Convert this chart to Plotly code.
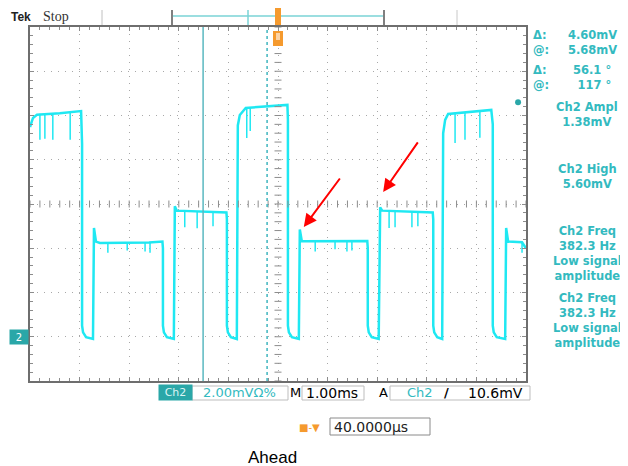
import numpy as np
import plotly.graph_objects as go

# ---------------- data (time in ms, voltage in mV) ----------------
trace_t_ms = [
    -5.00, -4.94, -4.86, -4.40, -3.97, -3.95, -3.95, -3.93, -3.87, -3.73,
    -3.71, -3.67, -3.59, -2.60, -2.33, -2.32, -2.32, -2.30, -2.24, -2.10,
    -2.08, -2.04, -1.04, -1.03, -1.03, -1.01, -0.95, -0.83,
    -0.81, -0.77, -0.65, 0.19, 0.20, 0.20, 0.22, 0.28, 0.42,
    0.44, 0.48, 1.80, 1.81, 1.81, 1.83, 1.89, 2.03,
    2.06, 2.10, 3.12, 3.13, 3.13, 3.15, 3.21, 3.31,
    3.33, 3.37, 3.43, 4.30, 4.33, 4.33, 4.35, 4.41, 4.58,
    4.60, 4.64, 4.92, 5.00,
]
trace_mv = [
    9.48, 9.89, 10.03, 10.10, 10.20, 8.70, 0.50, 0.20, -0.02, -0.10,
    4.92, 4.30, 4.24, 4.26, 4.30, 4.00, 0.50, 0.20, -0.02, -0.10,
    5.90, 5.70, 5.62, 5.30, 0.50, 0.20, -0.02, -0.10,
    9.55, 10.02, 10.34, 10.48, 9.80, 0.50, 0.20, -0.02, -0.10,
    4.85, 4.32, 4.33, 4.00, 0.50, 0.20, -0.02, -0.10,
    5.85, 5.70, 5.62, 5.30, 0.50, 0.20, -0.02, -0.10,
    9.20, 9.80, 10.07, 10.25, 9.60, 0.50, 0.20, -0.02, -0.10,
    4.92, 4.30, 4.27, 4.00,
]
glitch_t_ms = [-4.80, -4.70, -4.54, -4.19, -3.43, -3.04, -2.68, -2.58,
               -1.88, -1.63, -1.31, -0.63, -0.56, 0.75, 1.15, 1.39, 1.49,
               2.24, 2.36, 2.70, 2.82, 3.57, 3.77, 4.07, 4.92]
glitch_base_mv = [10.08, 10.08, 10.10, 10.15, 4.25, 4.25, 4.26, 4.26,
                  5.68, 5.66, 5.64, 10.36, 10.38, 4.32, 4.32, 4.33, 4.33,
                  5.68, 5.67, 5.65, 5.64, 10.12, 10.15, 10.20, 4.27]
glitch_tip_mv = [8.90, 8.95, 8.90, 8.90, 3.80, 3.90, 3.85, 3.80,
                 4.95, 4.90, 5.00, 8.98, 9.30, 3.85, 3.95, 3.85, 3.90,
                 4.92, 4.95, 4.95, 5.00, 8.76, 8.90, 9.00, 3.80]

cursor_solid_t_ms = -1.51
cursor_dotted_t_ms = -0.22
trigger_level_mv = 10.6
ground_mv = 0.0

arrow_head_t = [0.52, 2.12]
arrow_head_mv = [4.96, 6.54]
arrow_tail_t = [1.27, 2.84]
arrow_tail_mv = [7.22, 8.85]

cursor_labels = ["Δ:", "@:"]
volt_cursor_values = ["4.60mV", "5.68mV"]
phase_cursor_values = ["56.1 °", "117 °"]
meas_blocks = [["Ch2 Ampl", "1.38mV"], ["Ch2 High", "5.60mV"],
               ["Ch2 Freq", "382.3 Hz", "Low signal", "amplitude"],
               ["Ch2 Freq", "382.3 Hz", "Low signal", "amplitude"]]

# ---------------- layout geometry (page pixels; body has 8px margin) ----------------
OFF = 8
PAGE_W, PAGE_H = 628, 466
PLOT_L, PLOT_R, PLOT_T, PLOT_B = 30, 526, 27, 381
W, H = PAGE_W - OFF, PAGE_H - OFF
PW, PH = PLOT_R - PLOT_L, PLOT_B - PLOT_T
X_RANGE = [-5, 5]      # 10 div x 1 ms/div
Y_RANGE = [-2, 14]     # 8 div x 2 mV/div, ground one division above the bottom
Y_CENTRE = 6

def px(x):
    return (x - PLOT_L) / PW

def py(y):
    return (PLOT_B - y) / PH

CYAN = "#1FE8F2"
TEAL = "#33BAC0"
ORANGE = "#F59A2E"
GRAY = "#8C8C8C"

fig = go.Figure()

# glitches
gx, gy = [], []
for t, b, tip in zip(glitch_t_ms, glitch_base_mv, glitch_tip_mv):
    gx += [t, t, None]
    gy += [b, tip, None]
fig.add_trace(go.Scatter(x=gx, y=gy, mode="lines",
                         line=dict(color=CYAN, width=1.5), hoverinfo="skip"))
# main trace
fig.add_trace(go.Scatter(x=trace_t_ms, y=trace_mv, mode="lines",
                         line=dict(color=CYAN, width=2.5), hoverinfo="skip"))

# centre graticule tick marks
cx = np.round(np.arange(X_RANGE[0], X_RANGE[1] + 1e-9, 0.2), 3)
cy = np.round(np.arange(Y_RANGE[0], Y_RANGE[1] + 1e-9, 0.4), 3)
fig.add_trace(go.Scatter(x=cx, y=[Y_CENTRE] * len(cx), mode="markers",
                         marker=dict(symbol="line-ns", size=5, line=dict(color=GRAY, width=1)),
                         hoverinfo="skip"))
fig.add_trace(go.Scatter(x=[0] * len(cy), y=cy, mode="markers",
                         marker=dict(symbol="line-ew", size=5, line=dict(color=GRAY, width=1)),
                         hoverinfo="skip"))
# trigger level dot
fig.add_trace(go.Scatter(x=[4.84], y=[trigger_level_mv], mode="markers",
                         marker=dict(color="#2AA7A8", size=6), hoverinfo="skip"))

shapes = []
# cursors
shapes.append(dict(type="line", xref="x", yref="paper", x0=cursor_solid_t_ms, x1=cursor_solid_t_ms,
                   y0=0, y1=1, line=dict(color="#5AB8C0", width=1.5)))
shapes.append(dict(type="line", xref="x", yref="paper", x0=cursor_dotted_t_ms, x1=cursor_dotted_t_ms,
                   y0=0, y1=1, line=dict(color="#3FB5BE", width=1.5, dash="dot")))
# top record bar
shapes.append(dict(type="line", xref="paper", yref="paper", x0=px(172), x1=px(384), y0=py(16), y1=py(16),
                   line=dict(color="#7AD3D6", width=1.5)))
for xx, col, w in [(172, "#808080", 2), (384, "#808080", 2), (102, "#C0C0C0", 1), (457, "#C8C8C8", 1),
                   (248, "#7AD3D6", 1.5)]:
    shapes.append(dict(type="line", xref="paper", yref="paper", x0=px(xx), x1=px(xx), y0=py(10), y1=py(25),
                       line=dict(color=col, width=w)))
shapes.append(dict(type="rect", xref="paper", yref="paper", x0=px(275), x1=px(281), y0=py(25), y1=py(8),
                   fillcolor=ORANGE, line=dict(width=0)))
shapes.append(dict(type="rect", xref="paper", yref="paper", x0=px(273), x1=px(283), y0=py(46), y1=py(31),
                   fillcolor=ORANGE, line=dict(width=0)))
shapes.append(dict(type="rect", xref="paper", yref="paper", x0=px(276), x1=px(280), y0=py(40), y1=py(33),
                   fillcolor="#FBD3A6", line=dict(width=0)))
# status bar boxes
for x0, x1, y0, y1 in [(192, 288, 386, 400), (302, 364, 386, 400), (390, 530, 386, 400), (330, 430, 418, 435)]:
    shapes.append(dict(type="rect", xref="paper", yref="paper", x0=px(x0), x1=px(x1), y0=py(y1), y1=py(y0),
                       line=dict(color="#BDBDBD" if y0 < 410 else "#8A8A8A", width=1)))

ann = []
def text(x, y, s, size=13, color="black", family="DejaVu Sans", anchor="left", align="left", **kw):
    ann.append(dict(xref="paper", yref="paper", x=px(x), y=py(y), text=s, showarrow=False,
                    xanchor=anchor, yanchor="middle", align=align,
                    font=dict(size=size, color=color, family=family), **kw))

text(9, 17, "<b>Tek</b>", size=12, color="#222", family="Liberation Sans")
text(41, 17, "Stop", size=14, color="#333", family="Liberation Serif")

# cursor readouts (two lines per block)
RO = dict(size=11.5, color=TEAL, family="DejaVu Sans")
text(531, 42, "<b>" + "<br>".join(cursor_labels) + "</b>", **RO)
text(566, 42, "<b>" + "<br>".join(volt_cursor_values) + "</b>", **RO)
text(531, 78, "<b>" + "<br>".join(cursor_labels) + "</b>", **RO)
text(613, 78, "<b>" + "<br>".join(phase_cursor_values) + "</b>", anchor="right", align="right", **RO)

# measurement readouts
block_centre_y = [114, 176.5, 253, 320]
for lines, yy in zip(meas_blocks, block_centre_y):
    text(587, yy, "<b>" + "<br>".join(lines) + "</b>", anchor="center", align="center", **RO)

# ground marker
ann.append(dict(xref="paper", yref="y", x=px(19), y=ground_mv, text="2", showarrow=False,
                xanchor="center", yanchor="middle", bgcolor="#2AA7A8", width=16, height=12,
                font=dict(size=10, color="white", family="DejaVu Sans")))

# status bar
ann.append(dict(xref="paper", yref="paper", x=px(175.5), y=py(393), text="Ch2", showarrow=False,
                xanchor="center", yanchor="middle", bgcolor="#2AA7A8", width=31, height=13,
                font=dict(size=11, color="#DDF5F5", family="DejaVu Sans")))
text(201, 393, "2.00mVΩ%", color=TEAL)
text(288, 393, "M", color="black")
text(304, 393, "1.00ms", size=14, color="black")
text(377, 393, "A", color="black")
text(405, 393, "Ch2", color=TEAL)
text(442, 393, "<b>/</b>", color="black")
text(466, 393, "10.6mV", size=14, color="black")
text(309, 427, "■-▼", size=10, color=ORANGE, anchor="center")
text(332, 427, "40.0000µs", size=14, color="#222")
text(246, 457, "Ahead", size=17, color="black", family="Liberation Sans")

# red arrows
for hx, hy, tx, ty in zip(arrow_head_t, arrow_head_mv, arrow_tail_t, arrow_tail_mv):
    ann.append(dict(x=hx, y=hy, ax=tx, ay=ty, xref="x", yref="y", axref="x", ayref="y",
                    text="", showarrow=True, arrowhead=2, arrowsize=1.3, arrowwidth=2,
                    arrowcolor="#FF0000"))

axis_common = dict(showline=True, linecolor="#6E6E6E", linewidth=2, mirror="allticks",
                   ticks="inside", ticklen=4, tickcolor=GRAY, showticklabels=False,
                   showgrid=True, gridcolor="#A8A8A8", griddash="1px,6px", gridwidth=1,
                   zeroline=False, fixedrange=True)
fig.update_layout(
    width=W, height=H,
    margin=dict(l=PLOT_L - OFF, r=PAGE_W - PLOT_R, t=PLOT_T - OFF, b=PAGE_H - PLOT_B),
    paper_bgcolor="white", plot_bgcolor="white", showlegend=False,
    xaxis=dict(range=X_RANGE, dtick=1, tick0=0,
               minor=dict(dtick=0.2, ticks="inside", ticklen=3, tickcolor=GRAY, showgrid=False),
               **axis_common),
    yaxis=dict(range=Y_RANGE, dtick=2, tick0=0,
               minor=dict(dtick=0.4, ticks="inside", ticklen=3, tickcolor=GRAY, showgrid=False),
               **axis_common),
    shapes=shapes, annotations=ann,
)
fig.write_html("out.html")
